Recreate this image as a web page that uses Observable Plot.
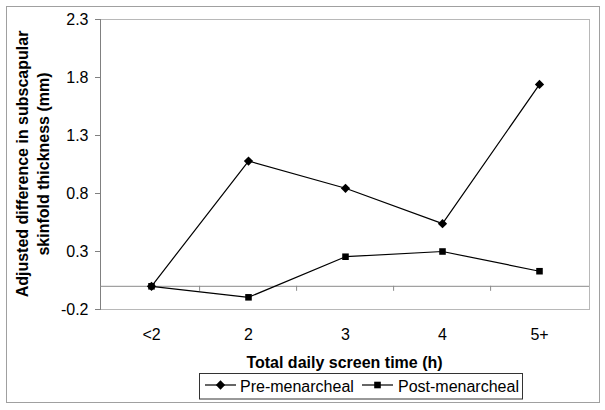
<!DOCTYPE html>
<html><head><meta charset="utf-8">
<script src="https://cdn.jsdelivr.net/npm/d3@7"></script>
<script src="https://cdn.jsdelivr.net/npm/@observablehq/plot@0.6"></script>
<style>body{margin:0;background:#fff;}</style>
</head><body><div id="chart"></div>
<script>
const categories = ["<2", "2", "3", "4", "5+"];
const preMenarcheal = [0, 1.08, 0.845, 0.54, 1.74];
const postMenarcheal = [0, -0.095, 0.255, 0.30, 0.13];
const yTicks = [-0.2, 0.3, 0.8, 1.3, 1.8, 2.3];
const seriesNames = ["Pre-menarcheal", "Post-menarcheal"];
const xTitle = "Total daily screen time (h)";
const yTitleLines = ["Adjusted difference in subscapular", "skinfold thickness (mm)"];

const data = [
  ...categories.map((c, i) => ({cat: c, value: preMenarcheal[i], series: seriesNames[0]})),
  ...categories.map((c, i) => ({cat: c, value: postMenarcheal[i], series: seriesNames[1]}))
];

const W = 605, H = 410, mL = 100, mR = 16, mT = 19, mB = 101;
const step = (W - mL - mR) / categories.length;
const FONT = "'Liberation Sans', Arial, sans-serif";

const svg = Plot.plot({
  width: W, height: H,
  marginLeft: mL, marginRight: mR, marginTop: mT, marginBottom: mB,
  style: {fontFamily: FONT, fontSize: "16px", color: "black", background: "white"},
  x: {type: "point", domain: categories, padding: 0.5},
  y: {domain: [-0.2, 2.3]},
  marks: [
    Plot.frame({stroke: "#b8b8b8"}),
    Plot.frame({anchor: "left", stroke: "#808080"}),
    Plot.ruleY([0], {stroke: "#8a8a8a"}),
    Plot.ruleX(categories.slice(1), {x: d => d, y1: 0, y2: 0, insetBottom: -5, dx: -step / 2, stroke: "#8a8a8a"}),
    Plot.axisY({ticks: yTicks, tickSize: 5, tickPadding: 7, tickFormat: d => d.toFixed(1), label: null,
      stroke: "#808080", fill: "black", fontSize: 16}),
    Plot.axisX({tickSize: 0, tickPadding: 19, label: null, fill: "black", fontSize: 16}),
    Plot.line(data, {x: "cat", y: "value", z: "series", stroke: "black", strokeWidth: 1.2}),
    Plot.dot(data, {x: "cat", y: "value", symbol: "square", r: 3.7, fill: "black",
      rotate: d => d.series === seriesNames[0] ? 45 : 0})
  ]
});

const s = d3.select(svg);
// outer border
s.append("rect").attr("x", 6.5).attr("y", 6.5).attr("width", 593).attr("height", 396)
  .attr("fill", "none").attr("stroke", "#a0a0a0");
// x title
s.append("text").attr("x", (mL + W - mR) / 2).attr("y", 368).attr("text-anchor", "middle")
  .attr("font-weight", "bold").attr("font-family", FONT).attr("font-size", "16px").text(xTitle);
// y title
const cy = (mT + H - mB) / 2;
yTitleLines.forEach((t, i) => {
  s.append("text").attr("transform", `translate(${28.3 + i * 21},${cy}) rotate(-90)`)
    .attr("text-anchor", "middle").attr("font-weight", "bold").attr("font-family", FONT)
    .attr("font-size", "16px").text(t);
});
// legend
const lg = s.append("g");
lg.append("rect").attr("x", 199.5).attr("y", 373.5).attr("width", 323).attr("height", 25.5)
  .attr("fill", "white").attr("stroke", "#333");
const items = [
  {x0: 205, x1: 236, tx: 240, rot: 45},
  {x0: 362, x1: 393, tx: 398, rot: 0}
];
items.forEach((it, i) => {
  lg.append("line").attr("x1", it.x0).attr("x2", it.x1).attr("y1", 385).attr("y2", 385)
    .attr("stroke", "black").attr("stroke-width", 1.2);
  lg.append("rect").attr("x", -3.3).attr("y", -3.3).attr("width", 6.6).attr("height", 6.6)
    .attr("fill", "black")
    .attr("transform", `translate(${(it.x0 + it.x1) / 2},385) rotate(${it.rot})`);
  lg.append("text").attr("x", it.tx).attr("y", 392).attr("text-anchor", "start").attr("font-family", FONT)
    .attr("font-size", "16px").text(seriesNames[i]);
});

document.getElementById("chart").appendChild(svg);
</script>
</body></html>
